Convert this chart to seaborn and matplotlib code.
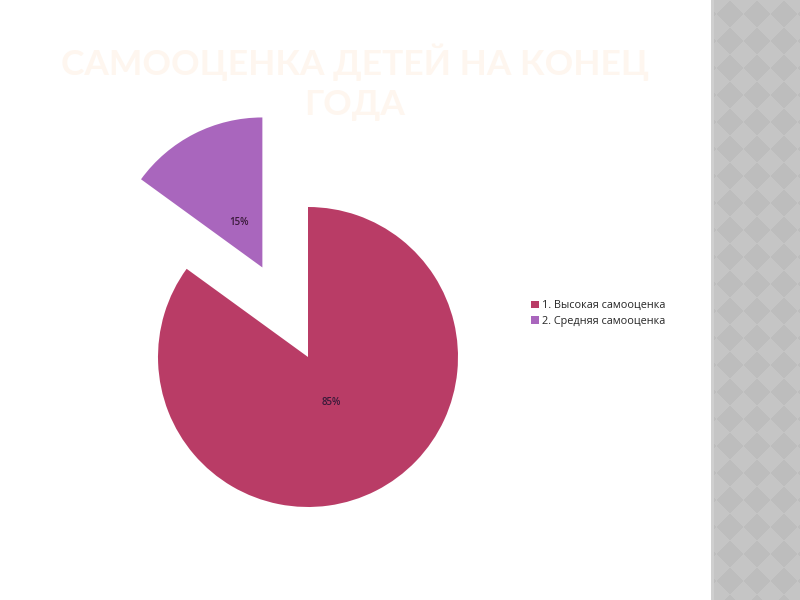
import numpy as np
import matplotlib
matplotlib.use('Agg')
import matplotlib.pyplot as plt
import seaborn as sns

# data
categories = ['1. Высокая самооценка', '2. Средняя самооценка']
shares = [85, 15]
slice_colors = ['#B93C66', '#A966BD']
title_lines = ['САМООЦЕНКА ДЕТЕЙ НА КОНЕЦ', 'ГОДА']

sns.set_theme(style='white')
plt.rcParams['font.family'] = ['Open Sans', 'DejaVu Sans']

fig = plt.figure(figsize=(8, 6), dpi=100)
fig.patch.set_facecolor('white')

# decorative grey strip with diamonds on the right
strip = fig.add_axes([711 / 800, 0, 89 / 800, 1])
yy, xx = np.mgrid[0:600, 0:89]
period = 27.0
u = np.floor((xx + yy + 8) / period)
v = np.floor((xx - yy + 8) / period)
img = np.where((u + v) % 2 == 0, 0.77, 0.74)
img[:, :3] = 0.81
strip.imshow(img, cmap='gray', vmin=0, vmax=1, aspect='auto', interpolation='nearest')
strip.set_axis_off()

# title (very faint on the slide)
for line, ypx in zip(title_lines, [62, 105]):
    fig.text(355 / 800, 1 - ypx / 600, line, ha='center', va='center',
             fontsize=25.5, fontweight='bold', color='#FEF6EF',
             family=['Lato', 'DejaVu Sans'])

# pie
ax = fig.add_axes([53 / 800, -12 / 600, 510 / 800, 510 / 600])
wedges, texts, autotexts = ax.pie(
    shares, colors=slice_colors, startangle=90, counterclock=False,
    explode=[0, 0.67], autopct='%1.0f%%', pctdistance=0.34,
    wedgeprops=dict(edgecolor='none'),
    textprops=dict(fontsize=7, color='#3a1a3a', fontweight='semibold'))
ax.set_xlim(-1.7, 1.7)
ax.set_ylim(-1.7, 1.7)
ax.set_aspect('equal')
ax.set_axis_off()

fig.legend(wedges, categories, loc='upper left', bbox_to_anchor=(527 / 800, 1 - 296 / 600),
           frameon=False, fontsize=7.8, handlelength=0.7, handleheight=0.7,
           handletextpad=0.3, labelspacing=0.4, borderaxespad=0)

fig.savefig('out.png', dpi=100)
